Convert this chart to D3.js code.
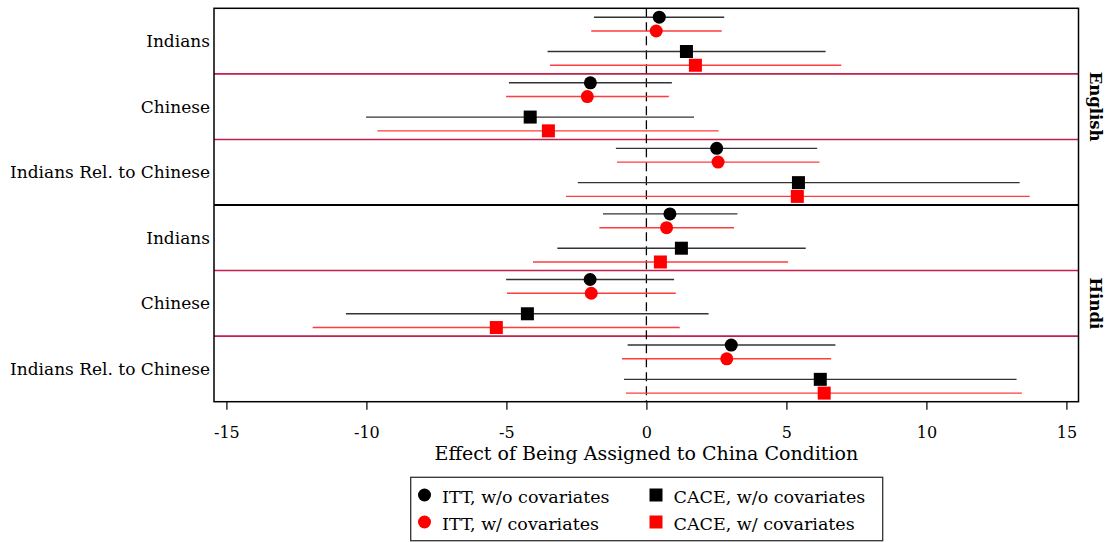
<!DOCTYPE html>
<html><head><meta charset="utf-8">
<script src="https://cdn.jsdelivr.net/npm/d3@7/dist/d3.min.js"></script>
<style>body{margin:0;background:#fff}svg{display:block}</style>
</head><body><svg id="c" width="1111" height="542"></svg>
<script>
const panels = ["English", "Hindi"];
const categories = ["Indians", "Chinese", "Indians Rel. to Chinese"];
const seriesNames = ["ITT, w/o covariates", "ITT, w/ covariates", "CACE, w/o covariates", "CACE, w/ covariates"];
const seriesShape = ["circle", "circle", "square", "square"];
const seriesColor = ["#000000", "#ff0000", "#000000", "#ff0000"];
const lineColor = ["#333333", "#ff3b3b", "#333333", "#ff3b3b"];
// order: English Indians, English Chinese, English Rel, Hindi Indians, Hindi Chinese, Hindi Rel
const ittNoCov    = [0.46, -2.00, 2.51, 0.84, -2.01, 3.03];
const ittNoCovLo  = [-1.87, -4.91, -1.09, -1.55, -5.01, -0.67];
const ittNoCovHi  = [2.78, 0.91, 6.10, 3.25, 0.99, 6.75];
const ittCov      = [0.35, -2.11, 2.56, 0.72, -1.97, 2.87];
const ittCovLo    = [-1.97, -5.01, -1.05, -1.68, -4.98, -0.87];
const ittCovHi    = [2.69, 0.80, 6.18, 3.13, 1.05, 6.60];
const caceNoCov   = [1.43, -4.15, 5.43, 1.25, -4.25, 6.21];
const caceNoCovLo = [-3.53, -10.01, -2.45, -3.18, -10.73, -0.80];
const caceNoCovHi = [6.40, 1.70, 13.33, 5.69, 2.22, 13.22];
const caceCov     = [1.75, -3.50, 5.39, 0.50, -5.36, 6.35];
const caceCovLo   = [-3.44, -9.61, -2.87, -4.05, -11.92, -0.73];
const caceCovHi   = [6.96, 2.58, 13.69, 5.06, 1.19, 13.41];
const xTicks = [-15, -10, -5, 0, 5, 10, 15];
const xTitle = "Effect of Being Assigned to China Condition";

const FONT = '"DejaVu Serif", "Liberation Serif", "Noto Serif", serif';
const est = [ittNoCov, ittCov, caceNoCov, caceCov];
const lo = [ittNoCovLo, ittCovLo, caceNoCovLo, caceCovLo];
const hi = [ittNoCovHi, ittCovHi, caceNoCovHi, caceCovHi];
const offsets = [-0.364, -0.154, 0.159, 0.369];

const svg = d3.select("#c").attr("font-family", FONT);
const L = 214, R = 1078.5, T = 8.3, B = 401.7;
const x = d3.scaleLinear().domain([-15, 15]).range([226.4, 1066.4]);
const nG = panels.length * categories.length;
const y = d3.scaleLinear().domain([0, nG]).range([T, B]);

const rows = [];
for (let s = 0; s < 4; s++) for (let g = 0; g < nG; g++) {
  rows.push({s, g, v: est[s][g], lo: lo[s][g], hi: hi[s][g], y: y(g + 0.5 + offsets[s])});
}

const seps = [];
for (let g = 1; g < nG; g++) if (g % categories.length !== 0) seps.push(g);
svg.selectAll(".sep").data(seps).join("line")
  .attr("x1", L).attr("x2", R).attr("y1", d => y(d)).attr("y2", d => y(d))
  .attr("stroke", "#c21f4b").attr("stroke-width", 1.6);

svg.append("line").attr("x1", x(0)).attr("x2", x(0)).attr("y1", T).attr("y2", B)
  .attr("stroke", "#000").attr("stroke-width", 1.3).attr("stroke-dasharray", "9,5");

svg.selectAll(".ci").data(rows).join("line")
  .attr("x1", d => x(d.lo)).attr("x2", d => x(d.hi)).attr("y1", d => d.y).attr("y2", d => d.y)
  .attr("stroke", d => lineColor[d.s]).attr("stroke-width", 1.4);

const ms = 13;
rows.forEach(d => {
  if (seriesShape[d.s] === "circle") svg.append("circle").attr("cx", x(d.v)).attr("cy", d.y).attr("r", 6.5).attr("fill", seriesColor[d.s]);
  else svg.append("rect").attr("x", x(d.v) - ms / 2).attr("y", d.y - ms / 2).attr("width", ms).attr("height", ms).attr("fill", seriesColor[d.s]);
});

svg.append("rect").attr("x", L).attr("y", T).attr("width", R - L).attr("height", B - T)
  .attr("fill", "none").attr("stroke", "#000").attr("stroke-width", 1.5);
svg.append("line").attr("x1", L).attr("x2", R).attr("y1", y(categories.length)).attr("y2", y(categories.length))
  .attr("stroke", "#000").attr("stroke-width", 2.2);

const labs = [];
panels.forEach((p, pi) => categories.forEach((c, ci) => labs.push({c, g: pi * categories.length + ci})));
svg.selectAll(".ylab").data(labs).join("text")
  .attr("x", 210).attr("y", d => y(d.g + 0.5)).attr("dy", "0.35em")
  .attr("text-anchor", "end").attr("font-size", 17).text(d => d.c);

svg.selectAll(".plab").data(panels).join("text")
  .attr("transform", (d, i) => `translate(1090,${y(i * categories.length + categories.length / 2)}) rotate(90)`)
  .attr("text-anchor", "middle").attr("font-size", 16.5).attr("font-weight", "bold").text(d => d);

const ax = svg.append("g").attr("transform", `translate(0,${B})`)
  .call(d3.axisBottom(x).tickValues(xTicks).tickSize(8).tickPadding(17).tickFormat(d => String(d)));
ax.select(".domain").remove();
ax.attr("font-family", FONT);
ax.selectAll("line").attr("stroke", "#000").attr("stroke-width", 1.2);
ax.selectAll("text").attr("font-size", 16).attr("fill", "#000");
svg.append("text").attr("x", x(0)).attr("y", 460).attr("text-anchor", "middle")
  .attr("font-size", 19).text(xTitle);

const lg = svg.append("g");
lg.append("rect").attr("x", 410.7).attr("y", 477.3).attr("width", 472).attr("height", 63.4)
  .attr("fill", "#fff").attr("stroke", "#333").attr("stroke-width", 1.3);
const legPos = [[424.5, 495], [424.5, 522], [656, 495], [656, 522]];
seriesNames.forEach((n, i) => {
  const [cx, cy] = legPos[i];
  if (seriesShape[i] === "circle") lg.append("circle").attr("cx", cx).attr("cy", cy).attr("r", 6.5).attr("fill", seriesColor[i]);
  else lg.append("rect").attr("x", cx - 6.5).attr("y", cy - 6.5).attr("width", 13).attr("height", 13).attr("fill", seriesColor[i]);
  lg.append("text").attr("x", cx + 17.5).attr("y", cy + 2).attr("dy", "0.35em").attr("font-size", 17.5).text(n);
});
</script></body></html>
